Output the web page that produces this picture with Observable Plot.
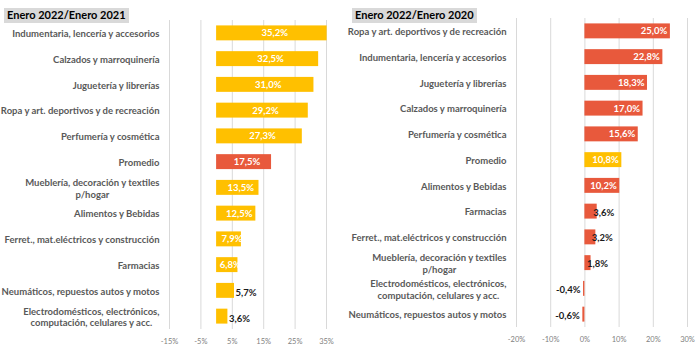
<!DOCTYPE html>
<html>
<head>
<meta charset="utf-8">
<script src="https://cdn.jsdelivr.net/npm/d3@7"></script>
<script src="https://cdn.jsdelivr.net/npm/@observablehq/plot@0.6"></script>
<style>
  html, body { margin: 0; padding: 0; background: #fff; }
  #wrap { display: flex; width: 700px; height: 353px; font-family: Lato, "Open Sans", sans-serif; }
  .panel { position: relative; width: 350px; height: 353px; }
  .panel svg { display: block; overflow: visible; }
  .title { position: absolute; top: 8px; height: 15px; line-height: 15px; background: #d9d9d9; color: #000;
           font: 700 11px Lato, sans-serif; padding: 0 3px; white-space: nowrap; z-index: 2; }
</style>
</head>
<body>
<div id="wrap">
  <div class="panel" id="left"><div class="title" id="lt" style="left:4px"></div></div>
  <div class="panel" id="right"><div class="title" id="rt" style="left:2px"></div></div>
</div>
<script>
const leftTitle = "Enero 2022/Enero 2021";
const rightTitle = "Enero 2022/Enero 2020";
const leftCats = [
  "Indumentaria, lencería y accesorios",
  "Calzados y marroquinería",
  "Juguetería y librerías",
  "Ropa y art. deportivos y de recreación",
  "Perfumería y cosmética",
  "Promedio",
  "Mueblería, decoración y textiles\np/hogar",
  "Alimentos y Bebidas",
  "Ferret., mat.eléctricos y construcción",
  "Farmacias",
  "Neumáticos, repuestos autos y motos",
  "Electrodomésticos, electrónicos,\ncomputación, celulares y acc."
];
const leftVals = [35.2, 32.5, 31.0, 29.2, 27.3, 17.5, 13.5, 12.5, 7.9, 6.8, 5.7, 3.6];
const rightCats = [
  "Ropa y art. deportivos y de recreación",
  "Indumentaria, lencería y accesorios",
  "Juguetería y librerías",
  "Calzados y marroquinería",
  "Perfumería y cosmética",
  "Promedio",
  "Alimentos y Bebidas",
  "Farmacias",
  "Ferret., mat.eléctricos y construcción",
  "Mueblería, decoración y textiles\np/hogar",
  "Electrodomésticos, electrónicos,\ncomputación, celulares y acc.",
  "Neumáticos, repuestos autos y motos"
];
const rightVals = [25.0, 22.8, 18.3, 17.0, 15.6, 10.8, 10.2, 3.6, 3.2, 1.8, -0.4, -0.6];
const leftTicks = [-15, -5, 5, 15, 25, 35];
const rightTicks = [-20, -10, 0, 10, 20, 30];

document.getElementById("lt").textContent = leftTitle;
document.getElementById("rt").textContent = rightTitle;

const YELLOW = "#FFC000", RED = "#E8593C";
const fmt = v => v.toFixed(1).replace(".", ",") + "%";

function fixMultiline(svg) {
  svg.querySelectorAll('g[aria-label="y-axis tick label"] text').forEach(t => {
    const spans = t.querySelectorAll("tspan");
    if (spans.length < 2) return;
    let W = 0;
    spans.forEach(s => { W = Math.max(W, s.getComputedTextLength()); });
    t.setAttribute("text-anchor", "middle");
    spans.forEach(s => s.setAttribute("x", -W / 2));
  });
}

function makePanel(el, cats, vals, ticks, domain, main, alt, m, labelMode) {
  const data = cats.map((c, i) => ({cat: c, value: vals[i]}));
  const marks = [
    Plot.gridX(ticks, {stroke: "#d9d9d9", strokeOpacity: 1}),
    Plot.barX(data, {x: "value", y: "cat", fill: d => d.cat === "Promedio" ? alt : main}),
    Plot.axisY({tickSize: 0, tickPadding: 10, fontSize: 9.5, fontWeight: 700, fill: "#595959", lineHeight: 1.25, label: null}),
    Plot.axisX(ticks, {tickSize: 0, tickPadding: 9, fontSize: 7.5, fill: "#808080", tickFormat: d => d + "%", label: null})
  ];
  if (labelMode === "left") {
    marks.push(Plot.text(data.filter(d => d.value >= 6), {x: d => d.value / 2, y: "cat", text: d => fmt(d.value),
      fill: "white", fontWeight: 700, fontSize: 9.5, dx: 3}));
    marks.push(Plot.text(data.filter(d => d.value < 6), {x: "value", y: "cat", text: d => fmt(d.value),
      fill: "#1a1a1a", fontWeight: 700, fontSize: 9.5, textAnchor: "start", dx: 1, dy: 2}));
  } else {
    marks.push(Plot.text(data.filter(d => d.value >= 10), {x: "value", y: "cat", text: d => fmt(d.value),
      fill: "white", fontWeight: 700, fontSize: 9.5, textAnchor: "end", dx: -3}));
    marks.push(Plot.text(data.filter(d => d.value >= 0 && d.value < 10), {x: "value", y: "cat", text: d => fmt(d.value),
      fill: "#1a1a1a", fontWeight: 700, fontSize: 9.5, textAnchor: "start", dx: -4, dy: 1}));
    marks.push(Plot.text(data.filter(d => d.value < 0), {x: "value", y: "cat", text: d => fmt(d.value),
      fill: "#1a1a1a", fontWeight: 700, fontSize: 9.5, textAnchor: "end", dx: -3, dy: 1}));
  }
  const chart = Plot.plot({
    width: 350, height: 353,
    marginLeft: m.left, marginRight: m.right, marginTop: m.top, marginBottom: m.bottom,
    style: {fontFamily: "Lato, sans-serif", background: "transparent", overflow: "visible"},
    x: {domain, ticks, axis: null},
    y: {domain: cats, paddingInner: 0.42, paddingOuter: 0.21, round: false, axis: null},
    marks
  });
  el.appendChild(chart);
  fixMultiline(chart);
}

makePanel(document.getElementById("left"), leftCats, leftVals, leftTicks, [-15, 35], YELLOW, RED,
  {left: 169, right: 24, top: 20, bottom: 24}, "left");
makePanel(document.getElementById("right"), rightCats, rightVals, rightTicks, [-20, 30], RED, YELLOW,
  {left: 166, right: 13, top: 18, bottom: 26}, "right");
</script>
</body>
</html>
